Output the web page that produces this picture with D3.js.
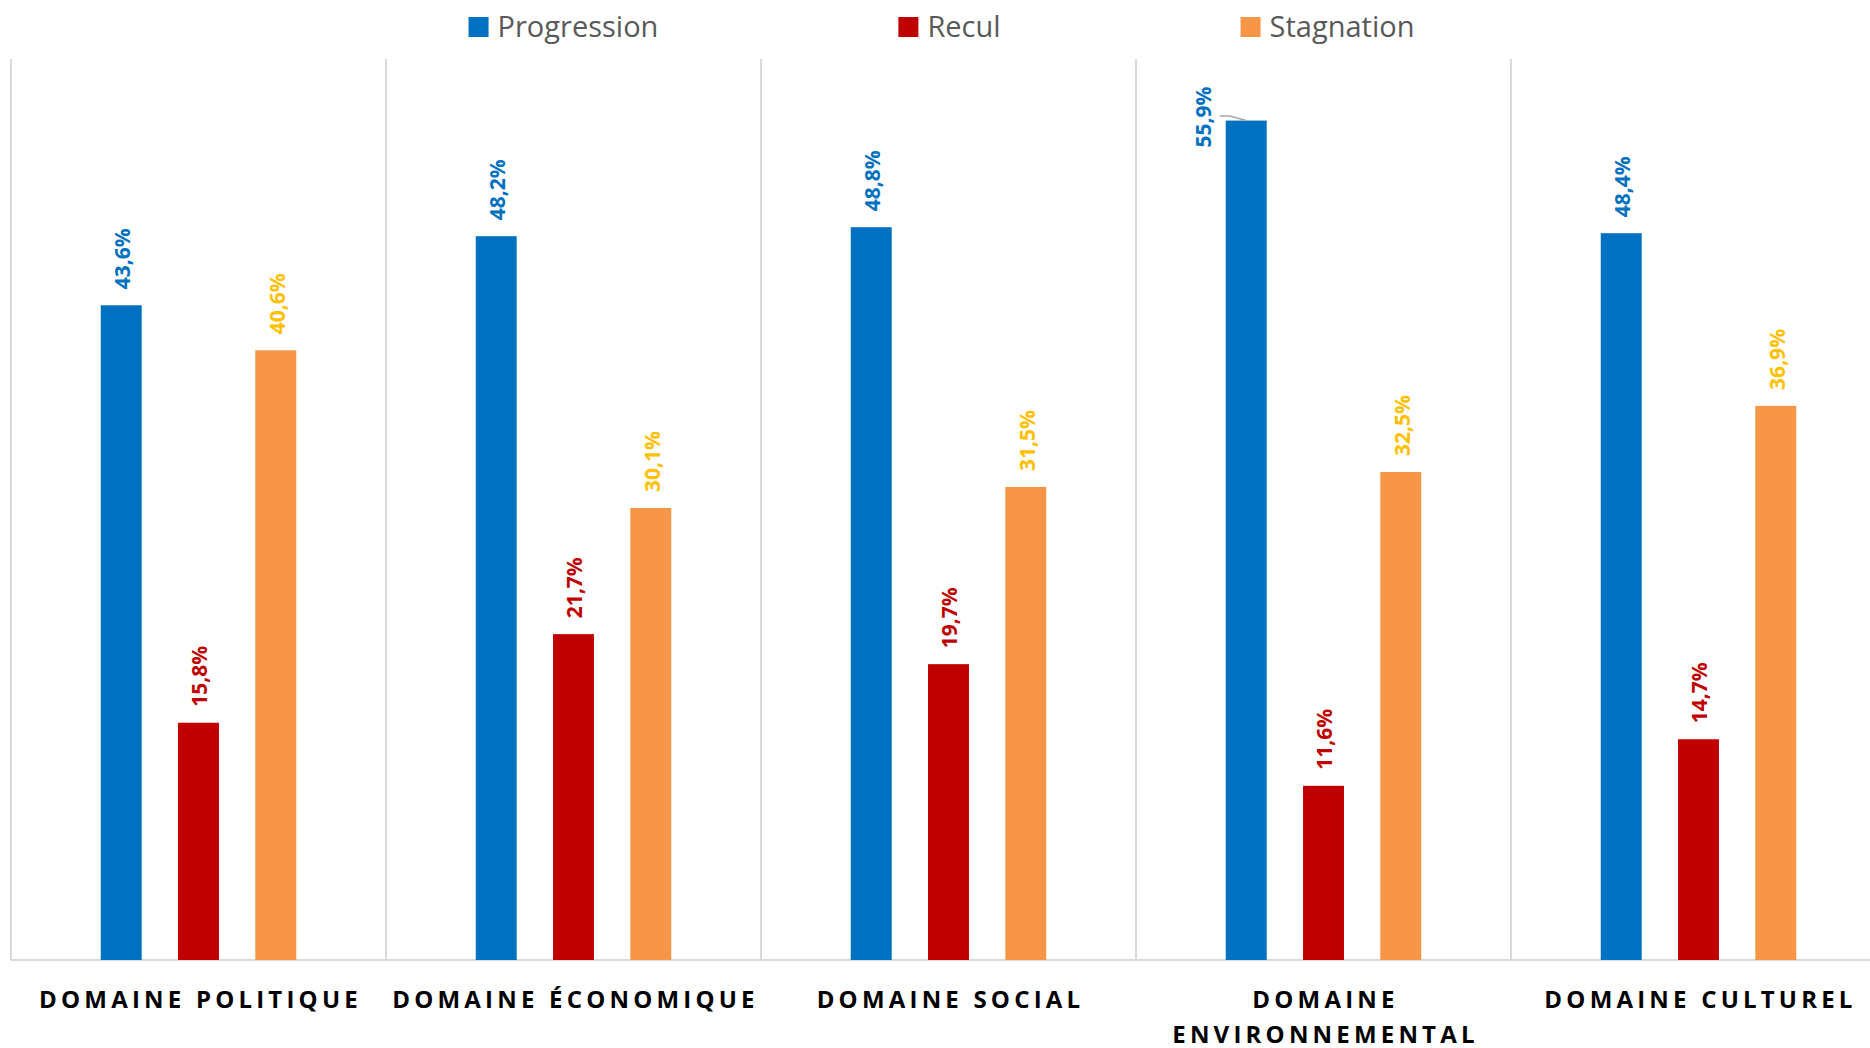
<!DOCTYPE html>
<html>
<head>
<meta charset="utf-8">
<script src="https://cdn.jsdelivr.net/npm/d3@7"></script>
<style>
  body { margin: 0; background: #fff; }
  svg { display: block; font-family: "Open Sans", "Noto Sans", sans-serif; }
</style>
</head>
<body>
<svg id="chart" width="1870" height="1048"></svg>
<script>
// chart values
const categories = ["DOMAINE POLITIQUE", "DOMAINE ÉCONOMIQUE", "DOMAINE SOCIAL", "DOMAINE ENVIRONNEMENTAL", "DOMAINE CULTUREL"];
const seriesNames = ["Progression", "Recul", "Stagnation"];
const progression = [43.6, 48.2, 48.8, 55.9, 48.4];
const recul = [15.8, 21.7, 19.7, 11.6, 14.7];
const stagnation = [40.6, 30.1, 31.5, 32.5, 36.9];

const barColors = { "Progression": "#0070C0", "Recul": "#C00000", "Stagnation": "#F79646" };
const labelColors = { "Progression": "#0070C0", "Recul": "#C00000", "Stagnation": "#FFC000" };

const values = { "Progression": progression, "Recul": recul, "Stagnation": stagnation };
const data = categories.map((c, i) => ({
    category: c,
    bars: seriesNames.map(s => ({ series: s, value: values[s][i] }))
}));

const svg = d3.select("#chart");
const plot = { left: 11, right: 1886, top: 59, bottom: 960 };

const x0 = d3.scaleBand()
    .domain(categories)
    .range([plot.left, plot.right]);

const bw = x0.bandwidth();
const x1 = d3.scaleBand()
    .domain(seriesNames)
    .range([bw / 2 - 97.75, bw / 2 + 97.75])
    .paddingInner(0.47);

const y = d3.scaleLinear()
    .domain([0, 60])
    .range([plot.bottom, plot.top]);

const fmt = v => v.toFixed(1).replace(".", ",") + "%";

// separators between categories
const grid = svg.append("g");
d3.range(categories.length + 1).forEach(i => {
    const xx = plot.left + i * bw;
    grid.append("line")
        .attr("x1", xx).attr("x2", xx)
        .attr("y1", plot.top).attr("y2", plot.bottom)
        .attr("stroke", "#d9d9d9")
        .attr("stroke-width", 2);
});
grid.append("line")
    .attr("x1", plot.left).attr("x2", plot.right)
    .attr("y1", plot.bottom).attr("y2", plot.bottom)
    .attr("stroke", "#d9d9d9")
    .attr("stroke-width", 2);

// bars
const groups = svg.selectAll("g.cat")
    .data(data)
    .enter()
    .append("g")
    .attr("class", "cat")
    .attr("transform", d => `translate(${x0(d.category)},0)`);

groups.selectAll("rect")
    .data(d => d.bars)
    .enter()
    .append("rect")
    .attr("x", d => x1(d.series))
    .attr("y", d => y(d.value))
    .attr("width", x1.bandwidth())
    .attr("height", d => plot.bottom - y(d.value))
    .attr("fill", d => barColors[d.series]);

// value labels (rotated)
groups.each(function (g) {
    const grp = d3.select(this);
    g.bars.forEach(d => {
        const cx = x1(d.series) + x1.bandwidth() / 2;
        const top = y(d.value);
        const t = grp.append("text")
            .attr("text-anchor", "start")
            .attr("dy", "0.35em")
            .style("font-size", "21px")
            .style("font-weight", "700")
            .style("fill", labelColors[d.series])
            .text(fmt(d.value));
        const len = t.node().getComputedTextLength();
        if (top - 16 - len < plot.top) {
            // not enough room above: put label left of bar with a leader line
            const tx = x1(d.series) - 22;
            t.attr("transform", `translate(${tx},${top + 27}) rotate(-90)`);
            grp.append("polyline")
                .attr("points", [[tx + 16, top - 4.5], [tx + 26, top - 4.5], [cx, top]].map(p => p.join(",")).join(" "))
                .attr("fill", "none")
                .attr("stroke", "#a6a6a6")
                .attr("stroke-width", 1.5);
        } else {
            t.attr("transform", `translate(${cx + 1.5},${top - 16}) rotate(-90)`);
        }
    });
});

// category labels, wrapped to band width
groups.each(function (g) {
    const grp = d3.select(this);
    const txt = grp.append("text")
        .attr("text-anchor", "middle")
        .style("font-size", "24px")
        .style("font-weight", "700")
        .style("letter-spacing", "4.2px")
        .style("fill", "#000");
    const words = g.category.split(" ");
    let lines = [];
    let cur = [];
    const probe = txt.append("tspan");
    words.forEach(w => {
        const test = cur.concat([w]).join(" ");
        probe.text(test);
        if (probe.node().getComputedTextLength() > bw + 5 && cur.length) {
            lines.push(cur.join(" "));
            cur = [w];
        } else {
            cur.push(w);
        }
    });
    lines.push(cur.join(" "));
    probe.remove();
    lines.forEach((l, i) => {
        txt.append("tspan")
            .attr("x", bw / 2 + 2)
            .attr("y", 1008 + i * 34.5)
            .text(l);
    });
});

// legend
const legend = svg.append("g");
const items = seriesNames.map(s => {
    const it = legend.append("g");
    it.append("rect")
        .attr("width", 20).attr("height", 20)
        .attr("y", 17)
        .attr("fill", barColors[s]);
    const t = it.append("text")
        .attr("x", 29)
        .attr("y", 37)
        .style("font-size", "29px")
        .style("fill", "#595959")
        .text(s);
    return { g: it, w: 29 + t.node().getComputedTextLength() };
});
const gap = 240;
const total = d3.sum(items, d => d.w) + gap * (items.length - 1);
let lx = 941.5 - total / 2;
items.forEach(it => {
    it.g.attr("transform", `translate(${lx},0)`);
    lx += it.w + gap;
});
</script>
</body>
</html>
